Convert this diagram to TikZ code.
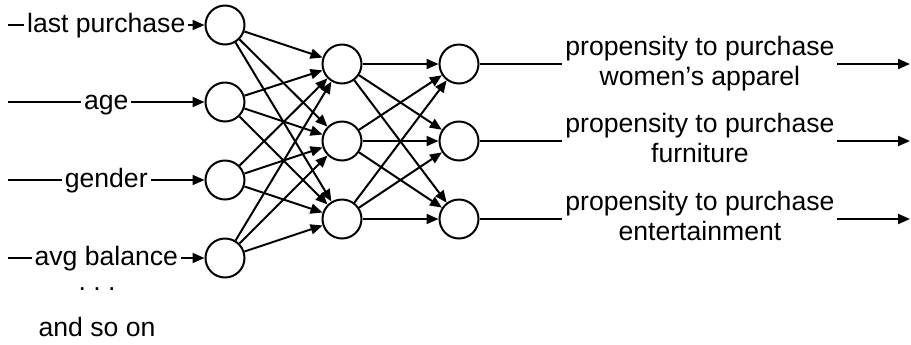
\documentclass[tikz,border=0pt]{standalone}
\usepackage{fontspec}
\setmainfont{Liberation Sans}
\usepackage{tikz}
\usetikzlibrary{arrows.meta}
\frenchspacing

\begin{document}
\begin{tikzpicture}[
      x=0.5pt, y=-0.5pt,
      every node/.style={font=\fontsize{13.3}{15}\selectfont},
      neuron/.style={
        circle, draw, line width=1pt,
        minimum size=19.5pt, inner sep=0pt
      },
      inlabel/.style={
        fill=white, inner xsep=1.5pt, inner ysep=0pt,
        text height=9.6pt, text depth=2.1pt
      },
      outlabel/.style={
        fill=white, inner xsep=1.5pt, inner ysep=0pt,
        align=center, pos=0.512
      },
      arr/.style={-{Triangle[length=6pt, width=5pt]}, line width=1pt}
    ]
    \useasboundingbox (0,0) rectangle (911,344);

    % ===== Left: input neurons and their free ends =====
    \node[neuron] (in1) at (225, 25) {};
    \node[neuron] (in2) at (225, 102) {};
    \node[neuron] (in3) at (225, 180) {};
    \node[neuron] (in4) at (225, 258) {};
    \coordinate (src1) at (8, 25);
    \coordinate (src2) at (8, 102);
    \coordinate (src3) at (8, 180);
    \coordinate (src4) at (8, 258);

    % ===== Middle: hidden neurons =====
    \node[neuron] (hid1) at (342, 64) {};
    \node[neuron] (hid2) at (342, 141) {};
    \node[neuron] (hid3) at (342, 219) {};

    % ===== Right: output neurons and their free ends =====
    \node[neuron] (out1) at (459, 64) {};
    \node[neuron] (out2) at (459, 141) {};
    \node[neuron] (out3) at (459, 219) {};
    \coordinate (dst1) at (910, 64);
    \coordinate (dst2) at (910, 141);
    \coordinate (dst3) at (910, 219);

    % ===== Arrows: features into the input layer =====
    \draw[arr] (src1) -- node[inlabel] {last purchase} (in1);
    \draw[arr] (src2) -- node[inlabel] {age} (in2);
    \draw[arr] (src3) -- node[inlabel] {gender} (in3);
    \draw[arr] (src4) -- node[inlabel] {avg balance} (in4);
    \node[anchor=base] (dots) at (97, 290) {. . .};
    \node[anchor=base] (more) at (97, 336) {and so on};

    % ===== Arrows: fully connected layers =====
    \foreach \i in {1,...,4}
      \foreach \j in {1,2,3}
        \draw[arr] (in\i) -- (hid\j);
    \foreach \i in {1,2,3}
      \foreach \j in {1,2,3}
        \draw[arr] (hid\i) -- (out\j);

    % ===== Arrows: outputs with their labels =====
    \draw[arr] (out1) -- node[outlabel]
      {\strut propensity to purchase\\ \strut women's apparel} (dst1);
    \draw[arr] (out2) -- node[outlabel]
      {\strut propensity to purchase\\ \strut furniture} (dst2);
    \draw[arr] (out3) -- node[outlabel]
      {\strut propensity to purchase\\ \strut entertainment} (dst3);
  \end{tikzpicture}
\end{document}
